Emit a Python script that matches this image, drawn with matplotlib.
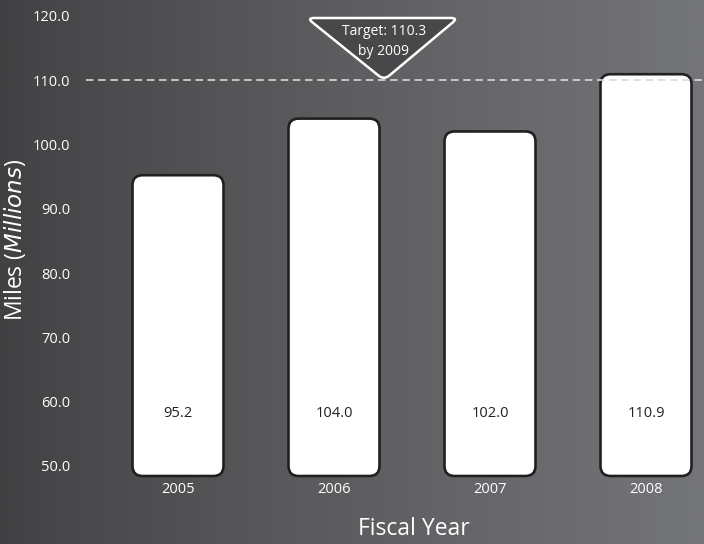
import numpy as np
import matplotlib
matplotlib.use("Agg")
import matplotlib.pyplot as plt
from matplotlib.patches import FancyBboxPatch, PathPatch
from matplotlib.path import Path
from matplotlib.transforms import Affine2D, ScaledTranslation

years = ["2005", "2006", "2007", "2008"]
miles = [95.2, 104.0, 102.0, 110.9]
value_labels = ["95.2", "104.0", "102.0", "110.9"]
ytick_values = [50, 60, 70, 80, 90, 100, 110, 120]
target_value = 110.0
target_lines = ["Target: 110.3", "by 2009"]

plt.rcParams["font.family"] = ["Open Sans", "DejaVu Sans"]

W, H, DPI = 704, 544, 100
fig = plt.figure(figsize=(W / DPI, H / DPI), dpi=DPI)

# horizontal grey gradient backdrop
bg = fig.add_axes([0, 0, 1, 1], zorder=0)
left_c = np.array([0x41, 0x41, 0x43]) / 255
right_c = np.array([0x74, 0x75, 0x78]) / 255
t = np.linspace(0, 1, 256) ** 0.85
grad = left_c[None, :] * (1 - t[:, None]) + right_c[None, :] * t[:, None]
bg.imshow(grad[None, :, :], aspect="auto", extent=[0, 1, 0, 1])
bg.set_axis_off()

ax = fig.add_axes([86 / W, 0, 1 - 86 / W, 1], zorder=1)
ax.patch.set_alpha(0)
px_per_x = 156.0
px_per_y = 6.433
x0 = np.arange(len(years))
ax.set_xlim(-(178 - 86) / px_per_x, (704 - 178) / px_per_x)
ax.set_ylim(50 - 78 / px_per_y, 110 + 80 / px_per_y)
base = 50 - 10 / px_per_y

bar_w = 91 / px_per_x
rad = 10 / px_per_x
aspect = px_per_x / px_per_y
for xi, v, lab in zip(x0, miles, value_labels):
    box = FancyBboxPatch((xi - bar_w / 2, base), bar_w, v - base,
                         boxstyle=f"round,pad=0,rounding_size={rad}",
                         mutation_aspect=aspect,
                         facecolor="white", edgecolor="#231f20",
                         linewidth=1.9, zorder=2)
    ax.add_patch(box)
    ax.text(xi, 60 - 12 / px_per_y, lab, ha="center", va="center", fontsize=10.5,
            color="#231f20", zorder=4)
    ax.text(xi, 50 - 24 / px_per_y, years[xi], ha="center", va="center", fontsize=10.5,
            color="white", zorder=4)

ax.axhline(target_value, color="#d9d9d9", linewidth=1.2,
           dashes=(4.5, 2.8), zorder=3)

# rounded inverted-triangle callout sitting on the target line
def rounded_polygon(pts, r):
    pts = np.asarray(pts, float)
    n = len(pts)
    verts, codes = [], []
    for i in range(n):
        p = pts[i]
        a = pts[i - 1]
        b = pts[(i + 1) % n]
        da = (a - p) / np.linalg.norm(a - p)
        db = (b - p) / np.linalg.norm(b - p)
        s = p + da * r
        e = p + db * r
        verts.append(s)
        codes.append(Path.MOVETO if i == 0 else Path.LINETO)
        verts += [p, e]
        codes += [Path.CURVE3, Path.CURVE3]
    verts.append(verts[0])
    codes.append(Path.CLOSEPOLY)
    return Path(verts, codes)

apex_x = (384 - 178) / px_per_x
tri = rounded_polygon([(0, 0), (-77, 62), (74, 62)], 7)
trans = Affine2D().scale(DPI / 100) + ScaledTranslation(apex_x, target_value, ax.transData)
ax.add_patch(PathPatch(tri, facecolor="#48484a", edgecolor="white",
                       linewidth=1.8, transform=trans, zorder=5, clip_on=False))
ax.text(apex_x, target_value + 49 / px_per_y, target_lines[0], ha="center", va="center",
        fontsize=10, color="white", zorder=6)
ax.text(apex_x, target_value + 29 / px_per_y, target_lines[1], ha="center", va="center",
        fontsize=10, color="white", zorder=6)

ax.set_yticks(ytick_values)
ax.set_yticklabels([f"{v:.1f}" for v in ytick_values])
ax.tick_params(axis="y", length=0, pad=11.5, labelsize=10.5, labelcolor="white")
ax.set_xticks([])
for s in ax.spines.values():
    s.set_visible(False)

fig.text(414 / W, 1 - 529 / H, "Fiscal Year", ha="center", va="center",
         fontsize=16.5, color="white")
fig.text(15 / W, 1 - 240 / H, "Miles ($\\it{Millions}$)", ha="center", va="center",
         rotation=90, fontsize=16.5, color="white")

fig.savefig("out.png", dpi=DPI)
